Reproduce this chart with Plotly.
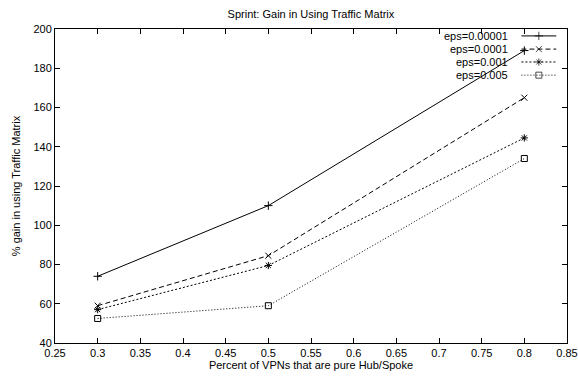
import plotly.graph_objects as go

# Fraction of VPNs that are pure hub/spoke
hub_spoke_frac = [0.3, 0.5, 0.8]

# Percent gain from using the traffic matrix, one list per epsilon
gain_eps_00001 = [74, 110, 189]
gain_eps_0001 = [59, 84.5, 165]
gain_eps_001 = [57, 79.5, 144.5]
gain_eps_005 = [52.5, 59, 134]

series_names = ["eps=0.00001", "eps=0.0001", "eps=0.001", "eps=0.005"]
series_values = [gain_eps_00001, gain_eps_0001, gain_eps_001, gain_eps_005]
line_dashes = ["solid", "5px,3px", "2px,2px", "1px,2px"]
marker_symbols = ["cross-thin-open", "x-thin-open", "asterisk-open", "square-open"]
marker_sizes = [6, 6, 6, 6]

font_family = "Liberation Sans, Arial, sans-serif"
ink = "#000000"

fig = go.Figure()

for name, vals, dash, sym, ms in zip(series_names, series_values, line_dashes,
                                     marker_symbols, marker_sizes):
    fig.add_trace(go.Scatter(
        x=hub_spoke_frac, y=vals, name=name, mode="lines+markers",
        line=dict(color=ink, width=1, dash=dash),
        marker=dict(symbol=sym, size=ms, color=ink,
                    line=dict(color=ink, width=1)),
        showlegend=False, xaxis="x", yaxis="y",
    ))

# Key in the upper right: label on the left, line sample on the right
key_rows_y = [0.978, 0.936, 0.895, 0.853]
key_x0, key_x1 = 0.911, 0.979
for name, dash, sym, ms, ky in zip(series_names, line_dashes, marker_symbols,
                                   marker_sizes, key_rows_y):
    fig.add_trace(go.Scatter(
        x=[key_x0, (key_x0 + key_x1) / 2, key_x1], y=[ky, ky, ky],
        mode="lines+markers",
        line=dict(color=ink, width=1, dash=dash),
        marker=dict(symbol=sym, size=[0, ms, 0], color=ink,
                    line=dict(color=ink, width=1)),
        showlegend=False, hoverinfo="skip", xaxis="x2", yaxis="y2",
    ))
    fig.add_annotation(
        x=0.889, y=ky, xref="x2", yref="y2", text=name,
        showarrow=False, xanchor="right", yanchor="middle",
        font=dict(family=font_family, size=11, color=ink),
    )

axis_common = dict(
    showline=True, linecolor=ink, linewidth=1, mirror="allticks",
    ticks="inside", ticklen=5, tickcolor=ink, tickwidth=1,
    showgrid=False, zeroline=False, automargin=False,
    tickfont=dict(family=font_family, size=11, color=ink),
)

fig.update_layout(
    width=578, height=381,
    margin=dict(l=55, r=11, t=29, b=38),
    paper_bgcolor="white", plot_bgcolor="white",
    title=dict(text="Sprint: Gain in Using Traffic Matrix",
               x=0.538, xanchor="center", y=0.962, yanchor="middle",
               font=dict(family=font_family, size=11, color=ink)),
    xaxis=dict(range=[0.25, 0.85], dtick=0.05, tick0=0.25,
               title=dict(text="Percent of VPNs that are pure Hub/Spoke",
                          standoff=0,
                          font=dict(family=font_family, size=11, color=ink)),
               **axis_common),
    yaxis=dict(range=[40, 200], dtick=20, tick0=40,
               title=dict(text="% gain in using Traffic Matrix", standoff=10,
                          font=dict(family=font_family, size=11, color=ink)),
               **axis_common),
    xaxis2=dict(range=[0, 1], overlaying="x", visible=False, fixedrange=True),
    yaxis2=dict(range=[0, 1], overlaying="y", visible=False, fixedrange=True),
    showlegend=False,
)

fig.write_html("out.html")
